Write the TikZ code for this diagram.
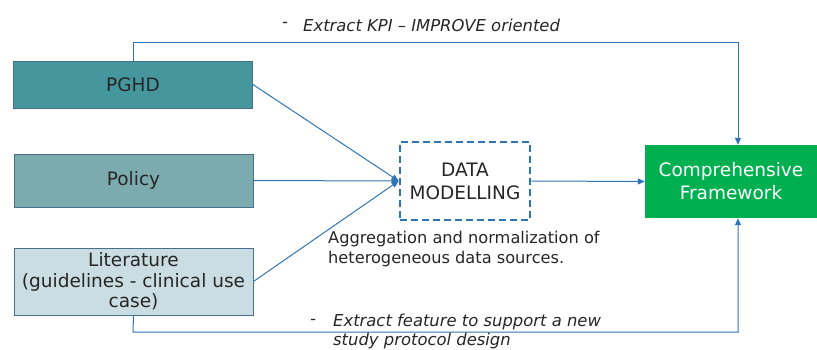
\documentclass[tikz,border=0pt]{standalone}
\usepackage{fontspec}
\setmainfont{DejaVu Sans}
\usetikzlibrary{arrows.meta}
\definecolor{pghdfill}{HTML}{45969D}
\definecolor{policyfill}{HTML}{7BABAF}
\definecolor{litfill}{HTML}{CADDE2}
\definecolor{boxline}{HTML}{4A6F8C}
\definecolor{linkblue}{HTML}{2E75B6}
\definecolor{cfgreen}{HTML}{00B050}
\begin{document}
\begin{tikzpicture}[x=1pt,y=-1pt,
  source/.style={draw=boxline, line width=0.8pt, minimum width=239pt, inner sep=0pt, align=center,
    font=\fontsize{18.5}{20.5}\selectfont, text=black!85},
  link/.style={draw=linkblue, line width=1pt, -{Triangle[length=7pt,width=6pt]}},
  note/.style={font=\fontsize{16.4}{19}\selectfont\itshape, text=black!85, anchor=west, inner sep=0pt},
  plain/.style={font=\fontsize{16.2}{20}\selectfont, text=black!85, align=left, anchor=north west, inner sep=0pt}]
\useasboundingbox (0,0) rectangle (817,349);

% source boxes
\node[source, fill=pghdfill, minimum height=47pt] (pghd) at (133,84.5) {PGHD};
\node[source, fill=policyfill, minimum height=53pt] (policy) at (133.5,180.5) {Policy};
\node[source, fill=litfill, minimum height=67pt] (lit) at (133.5,281.5)
  {Literature\\(guidelines - clinical use\\case)};

% modelling step
\node[draw=linkblue, dash pattern=on 7pt off 4pt, line width=2.7pt, minimum width=130pt, minimum height=78pt,
  align=center, font=\fontsize{18.5}{23}\selectfont, text=black!85] (dm) at (465,181) {DATA\\MODELLING};

% output box
\node[fill=cfgreen, minimum width=172pt, minimum height=73pt, align=center,
  font=\fontsize{18.5}{23}\selectfont, text=white] (cf) at (731,181.5) {Comprehensive\\Framework};

% inputs into the modelling step
\draw[link] (pghd.east) -- (dm.west);
\draw[link] (policy.east) -- (dm.west);
\draw[link] (lit.east) -- (dm.west);
\draw[link] (dm.east) -- (cf.west);

% direct routes to the framework
\coordinate (topl) at (133,42);
\coordinate (topr) at (738,42);
\coordinate (botl) at (133,332);
\coordinate (botr) at (738,332);
\draw[link] (pghd.north) -- (topl) -- (topr) -- (cf.north -| topr);
\draw[link] (lit.south) -- (botl) -- (botr) -- (cf.south -| botr);

% labels
\node[note] (kpidash) at (282,25) {-};
\node[note] (kpi) at (303,25) {Extract KPI – IMPROVE oriented};
\node[plain] (agg) at (328,231) {Aggregation and normalization of\\heterogeneous data sources.};
\node[note] (featdash) at (310,322) {-};
\node[note] (feat) at (333,322) {Extract feature to support a new};
\node[note] (feat2) at (333,341) {study protocol design};
\end{tikzpicture}
\end{document}
